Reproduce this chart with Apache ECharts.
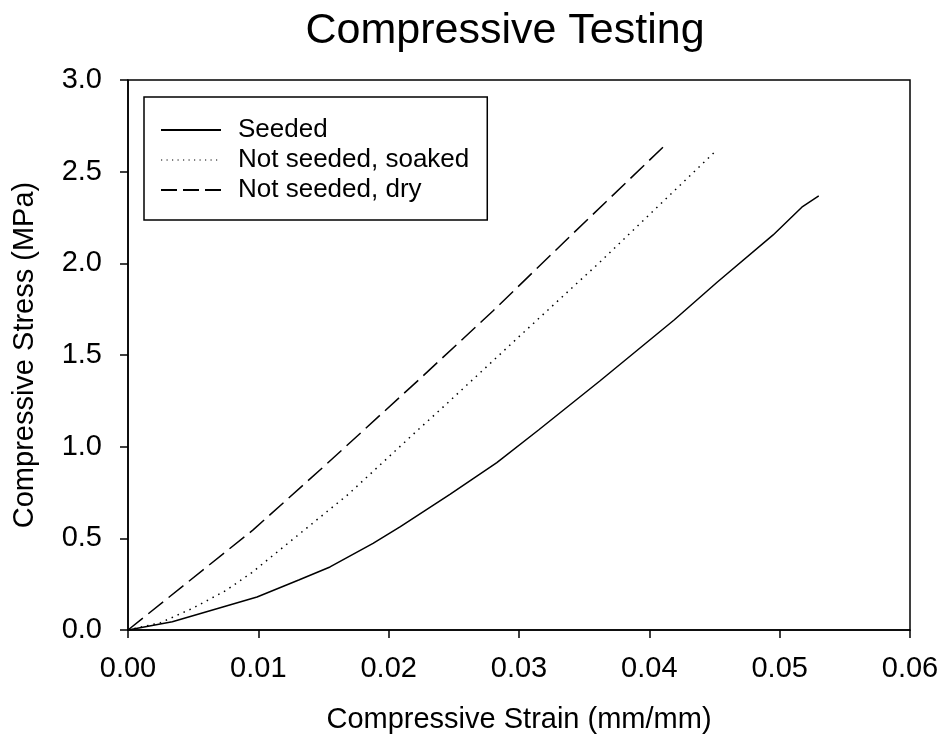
<!DOCTYPE html>
<html>
<head>
<meta charset="utf-8">
<title>Compressive Testing</title>
<script src="https://cdn.jsdelivr.net/npm/echarts@6/dist/echarts.min.js"></script>
<style>
  html, body { margin: 0; padding: 0; background: #fff; }
  #chart { width: 945px; height: 741px; }
</style>
</head>
<body>
<div id="chart"></div>
<script>
// Stress-strain curves (strain in mm/mm, stress in MPa)
const seededStrain = [0, 0.0034, 0.0099, 0.0131, 0.0155, 0.0188, 0.0209, 0.0247, 0.0283, 0.0315, 0.0362, 0.0419, 0.0452, 0.0495, 0.0517, 0.0530];
const seededStress = [0, 0.045, 0.180, 0.273, 0.344, 0.473, 0.564, 0.740, 0.913, 1.091, 1.358, 1.691, 1.897, 2.155, 2.306, 2.368];

const soakedStrain = [0, 0.0025, 0.0050, 0.0075, 0.0095, 0.0169, 0.0223, 0.0245, 0.0300, 0.0362, 0.0450];
const soakedStress = [0, 0.040, 0.120, 0.215, 0.313, 0.740, 1.095, 1.237, 1.600, 2.006, 2.606];

const dryStrain = [0, 0.0096, 0.0150, 0.0209, 0.0223, 0.0280, 0.0341, 0.0411];
const dryStress = [0, 0.546, 0.890, 1.273, 1.364, 1.740, 2.160, 2.637];

const seriesNames = ['Seeded', 'Not seeded, soaked', 'Not seeded, dry'];

const strainTickLabels = ['0.00', '0.01', '0.02', '0.03', '0.04', '0.05', '0.06'];
const stressTickLabels = ['0.0', '0.5', '1.0', '1.5', '2.0', '2.5', '3.0'];

const zip = (xs, ys) => xs.map((x, i) => [x, ys[i]]);

const FONT = '"Liberation Sans", Arial, Helvetica, sans-serif';

const chart = echarts.init(document.getElementById('chart'), null, { renderer: 'canvas' });

const axisCommon = {
  axisLine: { show: true, onZero: false, lineStyle: { color: '#000', width: 1.5 } },
  axisTick: { show: true, inside: false, length: 8, lineStyle: { color: '#000', width: 1.5 } },
  splitLine: { show: false },
  nameLocation: 'middle',
  nameTextStyle: { color: '#000', fontSize: 29, fontFamily: FONT }
};

const lineSeries = (name, xs, ys, dash) => ({
  name: name, type: 'line', symbol: 'none', smooth: false,
  itemStyle: { color: '#000' },
  lineStyle: { color: '#000', width: 1.5, type: dash },
  data: zip(xs, ys)
});

chart.setOption({
  backgroundColor: '#fff',
  animation: false,
  title: {
    text: 'Compressive Testing',
    left: 500,
    textAlign: 'center',
    top: 5,
    textStyle: { color: '#000', fontSize: 43, fontWeight: 'normal', fontFamily: FONT }
  },
  grid: {
    left: 128, right: 35, top: 80, bottom: 111,
    show: true, borderColor: '#000', borderWidth: 1.5, backgroundColor: 'transparent'
  },
  legend: {
    orient: 'vertical',
    left: 144,
    top: 97,
    padding: [20, 18, 17, 16],
    itemWidth: 60,
    itemHeight: 14,
    itemGap: 4,
    borderColor: '#000',
    borderWidth: 1.5,
    borderRadius: 0,
    itemStyle: { opacity: 0 },
    textStyle: { color: '#000', fontSize: 26, fontFamily: FONT, padding: [0, 0, 0, 12] },
    data: [
      { name: seriesNames[0] },
      { name: seriesNames[1], lineStyle: { type: [1.2, 4.3], width: 1.2 } },
      { name: seriesNames[2], lineStyle: { type: [16, 6] } }
    ]
  },
  xAxis: Object.assign({}, axisCommon, {
    type: 'value',
    min: 0,
    max: 0.06,
    interval: 0.01,
    name: 'Compressive Strain (mm/mm)',
    nameGap: 75,
    axisLabel: {
      color: '#000', fontSize: 29, fontFamily: FONT, margin: 24,
      formatter: (v) => strainTickLabels[Math.round(v / 0.01)]
    }
  }),
  yAxis: Object.assign({}, axisCommon, {
    type: 'value',
    min: 0,
    max: 3,
    interval: 0.5,
    name: 'Compressive Stress (MPa)',
    nameGap: 89,
    axisLabel: {
      color: '#000', fontSize: 29, fontFamily: FONT, margin: 26,
      formatter: (v) => stressTickLabels[Math.round(v / 0.5)]
    }
  }),
  series: [
    lineSeries(seriesNames[0], seededStrain, seededStress, 'solid'),
    lineSeries(seriesNames[1], soakedStrain, soakedStress, [1.5, 5]),
    lineSeries(seriesNames[2], dryStrain, dryStress, [19, 7])
  ]
});
</script>
</body>
</html>
